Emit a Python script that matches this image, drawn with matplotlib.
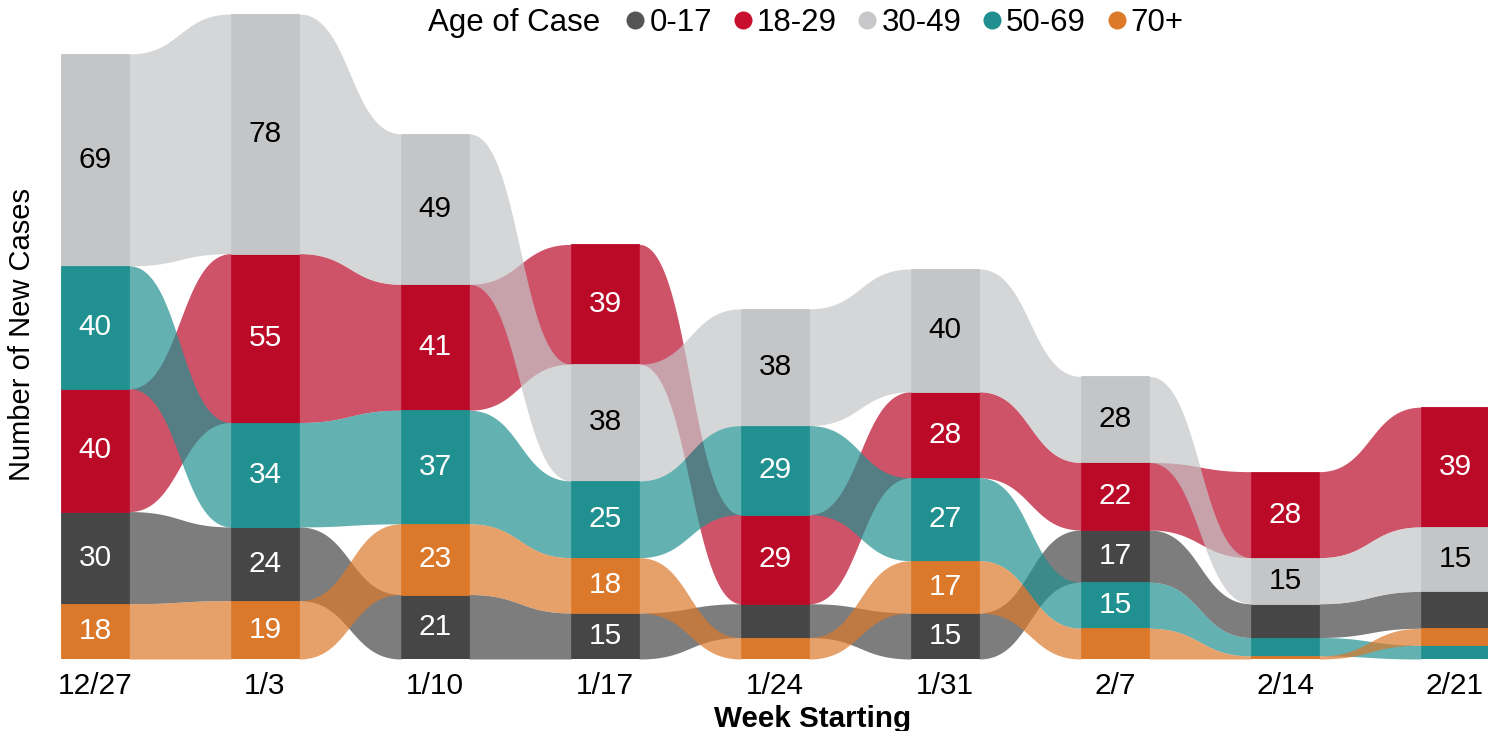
import numpy as np
import matplotlib
matplotlib.use('Agg')
import matplotlib.pyplot as plt
from matplotlib.lines import Line2D

plt.rcParams['font.family'] = ['Liberation Sans', 'DejaVu Sans']

weeks = ['12/27', '1/3', '1/10', '1/17', '1/24', '1/31', '2/7', '2/14', '2/21']
cats = ['0-17', '18-29', '30-49', '50-69', '70+']

cases_0_17 = [30, 24, 21, 15, 11, 15, 17, 11, 12]
cases_18_29 = [40, 55, 41, 39, 29, 28, 22, 28, 39]
cases_30_49 = [69, 78, 49, 38, 38, 40, 28, 15, 21]
cases_50_69 = [40, 34, 37, 25, 29, 27, 15, 6, 4.5]
cases_70_up = [18, 19, 23, 18, 7, 17, 10, 1, 5.5]

# label printed on the chart differs from bar height in one spot
label_override = {(2, 8): '15'}

bar_colors = ['#464646', '#bb0a28', '#c4c5c7', '#219090', '#dc782a']
dot_colors = ['#555555', '#c8102e', '#c8c8ca', '#218f8f', '#dc7a2a']
text_colors = ['white', 'white', 'black', 'white', 'white']

data = np.array([cases_0_17, cases_18_29, cases_30_49, cases_50_69, cases_70_up], dtype=float)
ncat, nweek = data.shape

# stack: largest on top, ties -> later category on top
bottoms = np.zeros_like(data)
for j in range(nweek):
    order = sorted(range(ncat), key=lambda c: (data[c, j], c))
    b = 0
    for c in order:
        bottoms[c, j] = b
        b += data[c, j]
tops = bottoms + data

fig = plt.figure(figsize=(14.88, 7.31), dpi=100)
ax = fig.add_axes([61/1488, 72/731, 1427/1488, 645/731])

w = 0.2
t = np.linspace(0, 1, 200)
u = 1.5*t - 1.5*t**2 + t**3
s = 3*t**2 - 2*t**3

# ribbons between weeks
for c in range(ncat):
    for j in range(nweek - 1):
        x0, x1 = j + w, j + 1 - w
        x = x0 + u*(x1 - x0)
        lo = bottoms[c, j] + s*(bottoms[c, j+1] - bottoms[c, j])
        hi = tops[c, j] + s*(tops[c, j+1] - tops[c, j])
        ax.fill_between(x, lo, hi, color=bar_colors[c], alpha=0.7, linewidth=0, zorder=1)

# solid bars + labels
for c in range(ncat):
    ax.bar(range(nweek), data[c], bottom=bottoms[c], width=2*w, color=bar_colors[c],
           edgecolor=bar_colors[c], linewidth=0.6, zorder=3)
    for j in range(nweek):
        if data[c, j] >= 14:
            txt = label_override.get((c, j), '%d' % data[c, j])
            ax.text(j, bottoms[c, j] + data[c, j]/2, txt, ha='center', va='center',
                    fontsize=21.5, color=text_colors[c], zorder=4)

ax.set_xlim(-0.2, -0.2 + 1427/170)
ax.set_ylim(0, 210)
ax.set_xticks(range(nweek))
ax.set_xticklabels(weeks, fontsize=21.5)
ax.tick_params(axis='x', length=0, pad=9)
ax.set_yticks([])
for sp in ax.spines.values():
    sp.set_visible(False)

fig.text(22/1488, 1 - 335/731, 'Number of New Cases', rotation=90, ha='center', va='center',
         fontsize=21)
fig.text(813/1488, 4/731, 'Week Starting', ha='center', va='baseline', fontsize=21.3,
         fontweight='bold')

fig.text(428/1488, 1 - 23/731, 'Age of Case', ha='left', va='center', fontsize=22.5)
handles = [Line2D([], [], marker='o', linestyle='none', markersize=13,
                  markerfacecolor=dot_colors[i], markeredgewidth=0) for i in range(ncat)]
fig.legend(handles, cats, ncol=5, frameon=False, loc='center left', fontsize=22.5,
           bbox_to_anchor=(626/1488, 1 - 23/731), handlelength=0.6, handletextpad=0.15,
           columnspacing=0.68, borderaxespad=0, borderpad=0)

fig.savefig('out.png', dpi=100)
